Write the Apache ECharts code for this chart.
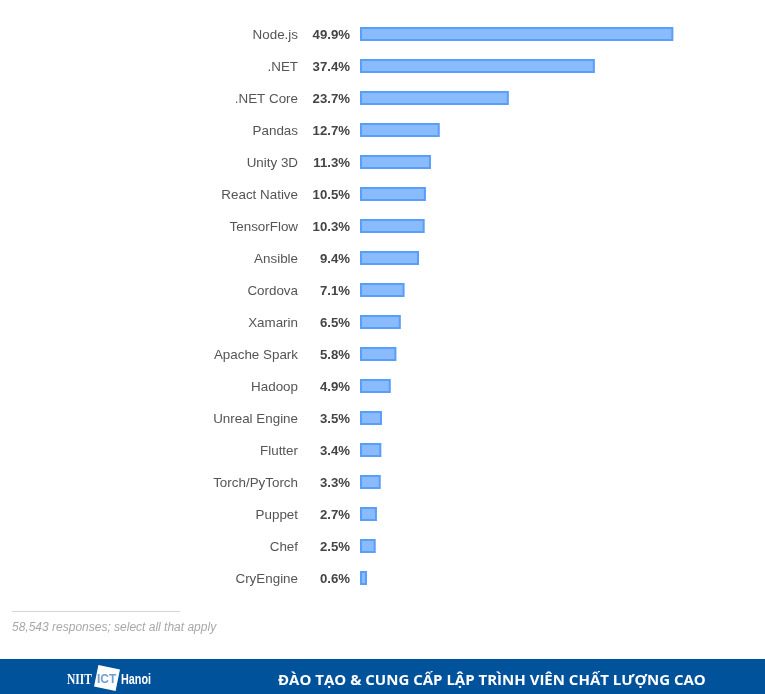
<!DOCTYPE html>
<html>
<head>
<meta charset="utf-8">
<style>
  html, body { margin: 0; padding: 0; background: #fff; }
  #chart-container { width: 765px; height: 694px; }
</style>
<script src="https://cdn.jsdelivr.net/npm/echarts@6/dist/echarts.min.js"></script>
</head>
<body>
<div id="chart-container"></div>
<script>
var categories = ['Node.js', '.NET', '.NET Core', 'Pandas', 'Unity 3D', 'React Native', 'TensorFlow', 'Ansible',
  'Cordova', 'Xamarin', 'Apache Spark', 'Hadoop', 'Unreal Engine', 'Flutter', 'Torch/PyTorch', 'Puppet', 'Chef', 'CryEngine'];
var shares = [49.9, 37.4, 23.7, 12.7, 11.3, 10.5, 10.3, 9.4, 7.1, 6.5, 5.8, 4.9, 3.5, 3.4, 3.3, 2.7, 2.5, 0.6];
var footnote = '58,543 responses; select all that apply';
var slogan = 'ĐÀO TẠO & CUNG CẤP LẬP TRÌNH VIÊN CHẤT LƯỢNG CAO';

var dom = document.getElementById('chart-container');
var myChart = echarts.init(dom, null, { renderer: 'canvas' });

var FONT = '"Liberation Sans", Arial, sans-serif';

var option = {
  animation: false,
  backgroundColor: '#fff',
  grid: { left: 360, top: 18, width: 314, height: 576 },
  xAxis: { type: 'value', min: 0, max: 50, show: false },
  yAxis: {
    type: 'category',
    inverse: true,
    data: categories,
    axisLine: { show: false },
    axisTick: { show: false },
    axisLabel: {
      margin: 10,
      padding: [2, 0, 0, 0],
      formatter: function (name, i) {
        return '{n|' + name + '}{p|' + shares[i].toFixed(1) + '%}';
      },
      rich: {
        n: { fontFamily: FONT, fontSize: 13.4, color: '#555' },
        p: { fontFamily: FONT, fontSize: 13.2, fontWeight: 'bold', color: '#444', width: 52, align: 'right' }
      }
    }
  },
  series: [{
    type: 'bar',
    data: shares,
    barWidth: 14,
    barMinHeight: 7,
    itemStyle: { color: '#8ABBFC', borderColor: '#5A9EFB', borderWidth: 2 }
  }],
  graphic: [
    { type: 'rect', shape: { x: 12, y: 611, width: 168, height: 1 }, style: { fill: '#d6d6d6' } },
    { type: 'text', x: 12, y: 628, style: { text: footnote, fontFamily: FONT, fontStyle: 'italic', fontSize: 12, fill: '#a8a8a8', verticalAlign: 'middle' } },
    { type: 'rect', shape: { x: 0, y: 659, width: 765, height: 35 }, style: { fill: '#00529B' } },
    { type: 'text', x: 67, y: 680, scaleX: 0.77, style: { text: 'NIIT', fontFamily: '"Liberation Serif", serif', fontWeight: 'bold', fontSize: 15, fill: '#fff', verticalAlign: 'middle' } },
    { type: 'rect', rotation: -0.2, originX: 107, originY: 678, shape: { x: 96, y: 667, width: 22, height: 22 }, style: { fill: '#fff' } },
    { type: 'text', x: 97, y: 680, style: { text: 'ICT', fontFamily: FONT, fontWeight: 'bold', fontSize: 12, fill: '#6f9fd0', verticalAlign: 'middle' } },
    { type: 'text', x: 121, y: 680, scaleX: 0.72, style: { text: 'Hanoi', fontFamily: FONT, fontWeight: 'bold', fontSize: 15, fill: '#fff', verticalAlign: 'middle' } },
    { type: 'text', x: 278, y: 681, style: { text: slogan, fontFamily: '"Open Sans", sans-serif', fontWeight: 'bold', fontSize: 15, fill: '#fff', verticalAlign: 'middle' } }
  ]
};

myChart.setOption(option);
window.addEventListener('resize', myChart.resize);
</script>
</body>
</html>
